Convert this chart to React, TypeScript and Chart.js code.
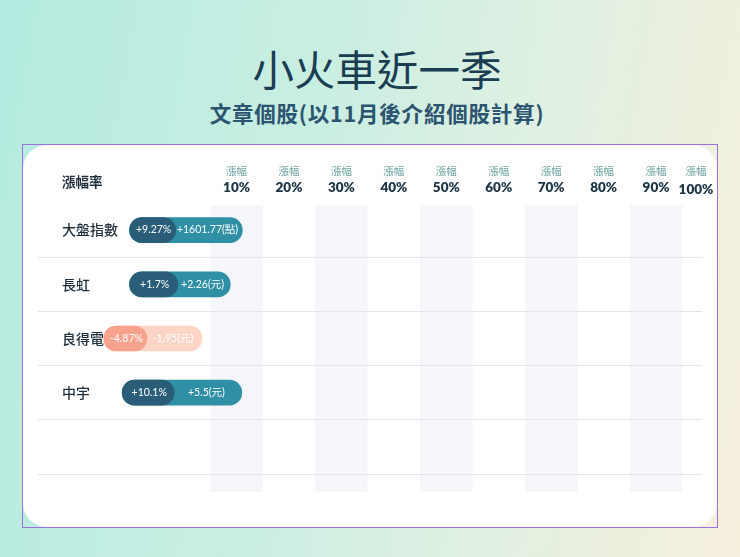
import React, { useEffect, useRef } from 'react';
import { Chart, registerables } from 'chart.js';

Chart.register(...registerables);

// ---- data ----
const categories = ['大盤指數', '長虹', '良得電', '中宇', ''];
const pctLabels = ['+9.27%', '+1.7%', '-4.87%', '+10.1%'];
const changeLabels = ['+1601.77(點)', '+2.26(元)', '-1.95(元)', '+5.5(元)'];
const pctValues = [9.27, 1.7, -4.87, 10.1];
const barStart = [-10.4, -10.4, -15.3, -11.8];
const pctEnd = [-1.6, -1.2, -7.1, -1.9];
const changeEnd = [11.1, 8.8, 3.4, 11.0];
const headerCorner = '漲幅率';
const headerTop = '漲幅';
const headerTicks = [10, 20, 30, 40, 50, 60, 70, 80, 90, 100];
const bandTicks = [10, 30, 50, 70, 90];
const titleText = '小火車近一季';
const subtitleText = '文章個股(以11月後介紹個股計算)';

const CJK = "'Noto Sans CJK TC', sans-serif";
const NUM = "Lato, 'Noto Sans CJK TC', sans-serif";

const bandPlugin = {
  id: 'bands',
  beforeDraw(chart: any) {
    const { ctx, chartArea, scales } = chart;
    const x = scales.x;
    ctx.save();
    ctx.fillStyle = '#f5f6fa';
    bandTicks.forEach((v) => {
      const x1 = x.getPixelForValue(v - 5);
      const x2 = x.getPixelForValue(v + 5);
      const top = chartArea.top + 2;
      const bottom = chartArea.bottom + 18;
      ctx.fillRect(x1, top, x2 - x1, bottom - top);
    });
    ctx.restore();
  },
};

const headerPlugin = {
  id: 'headers',
  afterDraw(chart: any) {
    const { ctx, chartArea, scales } = chart;
    const x = scales.x;
    const y = scales.y;
    ctx.save();
    ctx.textBaseline = 'middle';
    ctx.textAlign = 'left';
    ctx.fillStyle = '#1f2f3b';
    ctx.font = `600 13.5px ${CJK}`;
    ctx.fillText(headerCorner, chartArea.left + 24, chartArea.top - 21);
    ctx.font = `500 14px ${CJK}`;
    categories.forEach((c, i) => {
      if (!c) return;
      ctx.fillText(c, chartArea.left + 24, y.getPixelForValue(i));
    });
    ctx.textAlign = 'center';
    headerTicks.forEach((v) => {
      const px = Math.min(x.getPixelForValue(v), chartArea.right - 6);
      ctx.fillStyle = '#6fa3a1';
      ctx.font = `400 10.5px ${CJK}`;
      ctx.fillText(headerTop, px, chartArea.top - 31.5);
      ctx.fillStyle = '#1d3444';
      ctx.font = `800 13.5px ${NUM}`;
      ctx.fillText(`${v}%`, px, chartArea.top - 15 + (v === 100 ? 1.5 : 0));
    });
    ctx.restore();
  },
};

const barLabelPlugin = {
  id: 'barLabels',
  afterDatasetsDraw(chart: any) {
    const { ctx, scales } = chart;
    const x = scales.x;
    const y = scales.y;
    ctx.save();
    ctx.textAlign = 'center';
    ctx.textBaseline = 'middle';
    ctx.font = `400 10.5px ${NUM}`;
    ctx.fillStyle = '#ffffff';
    pctLabels.forEach((lab, i) => {
      const s = x.getPixelForValue(barStart[i]);
      const d = x.getPixelForValue(pctEnd[i]);
      const e = x.getPixelForValue(changeEnd[i]);
      const py = y.getPixelForValue(i);
      ctx.fillText(lab, (s + d) / 2 + 1, py);
      ctx.fillText(changeLabels[i], (d + e) / 2 - 1.5, py);
    });
    ctx.restore();
  },
};

export default function App() {
  const canvasRef = useRef<HTMLCanvasElement | null>(null);

  useEffect(() => {
    if (!canvasRef.current) return;
    const darkColors = pctValues.map((v) => (v >= 0 ? '#2a5e78' : '#f6a28c'));
    const lightColors = pctValues.map((v) => (v >= 0 ? '#2f8fa4' : '#fcd5c6'));
    const chart = new Chart(canvasRef.current, {
      type: 'bar',
      data: {
        labels: categories,
        datasets: [
          {
            label: '漲幅',
            data: barStart.map((s, i) => [s, pctEnd[i]]) as any,
            backgroundColor: darkColors,
            borderRadius: 13,
            borderSkipped: false,
            barThickness: 25,
            grouped: false,
          },
          {
            label: '漲跌',
            data: barStart.map((s, i) => [s, changeEnd[i]]) as any,
            backgroundColor: lightColors,
            borderRadius: 13,
            borderSkipped: false,
            barThickness: 25,
            grouped: false,
          },
        ],
      },
      options: {
        indexAxis: 'y',
        animation: false,
        responsive: false,
        layout: { padding: { left: 16, right: 16, top: 59, bottom: 54 } },
        plugins: {
          legend: { display: false },
          tooltip: { enabled: false },
          title: { display: false },
        },
        scales: {
          x: {
            type: 'linear',
            min: -27.86,
            max: 98.76,
            display: false,
          },
          y: {
            type: 'category',
            offset: true,
            border: { display: false },
            grid: {
              offset: true,
              drawTicks: false,
              lineWidth: 1,
              color: (ctx: any) => (ctx.index === 0 ? 'rgba(0,0,0,0)' : '#e3e5e9'),
            },
            ticks: { display: false },
          },
        },
      },
      plugins: [bandPlugin, headerPlugin, barLabelPlugin],
    });
    return () => chart.destroy();
  }, []);

  return (
    <div
      style={{
        position: 'fixed',
        left: 0,
        top: 0,
        width: 740,
        height: 557,
        overflow: 'hidden',
        background: 'linear-gradient(100deg, #b4ebe0 0%, #c9eee2 40%, #e2f1e2 70%, #f6efdc 100%)',
      }}
    >
      <div
        style={{
          position: 'absolute',
          left: 7,
          top: 46,
          width: 740,
          textAlign: 'center',
          fontFamily: CJK,
          fontSize: 41.5,
          fontWeight: 400,
          lineHeight: '44px',
          color: '#1b3d52',
        }}
      >
        {titleText}
      </div>
      <div
        style={{
          position: 'absolute',
          left: 7,
          top: 101,
          width: 740,
          textAlign: 'center',
          fontFamily: CJK,
          fontSize: 21.5,
          fontWeight: 700,
          lineHeight: '24px',
          letterSpacing: 0.8,
          color: '#2c5470',
        }}
      >
        {subtitleText}
      </div>
      <div
        style={{
          position: 'absolute',
          left: 22,
          top: 144,
          width: 696,
          height: 384,
          boxSizing: 'border-box',
          border: '1.5px solid #9c72da',
        }}
      >
        <div
          style={{
            position: 'absolute',
            left: 0,
            top: 0,
            right: 0,
            bottom: 0,
            background: '#ffffff',
            borderRadius: 24,
          }}
        />
      </div>
      <canvas
        ref={canvasRef}
        width={696}
        height={384}
        style={{ position: 'absolute', left: 22, top: 144, width: 696, height: 384 }}
      />
    </div>
  );
}
